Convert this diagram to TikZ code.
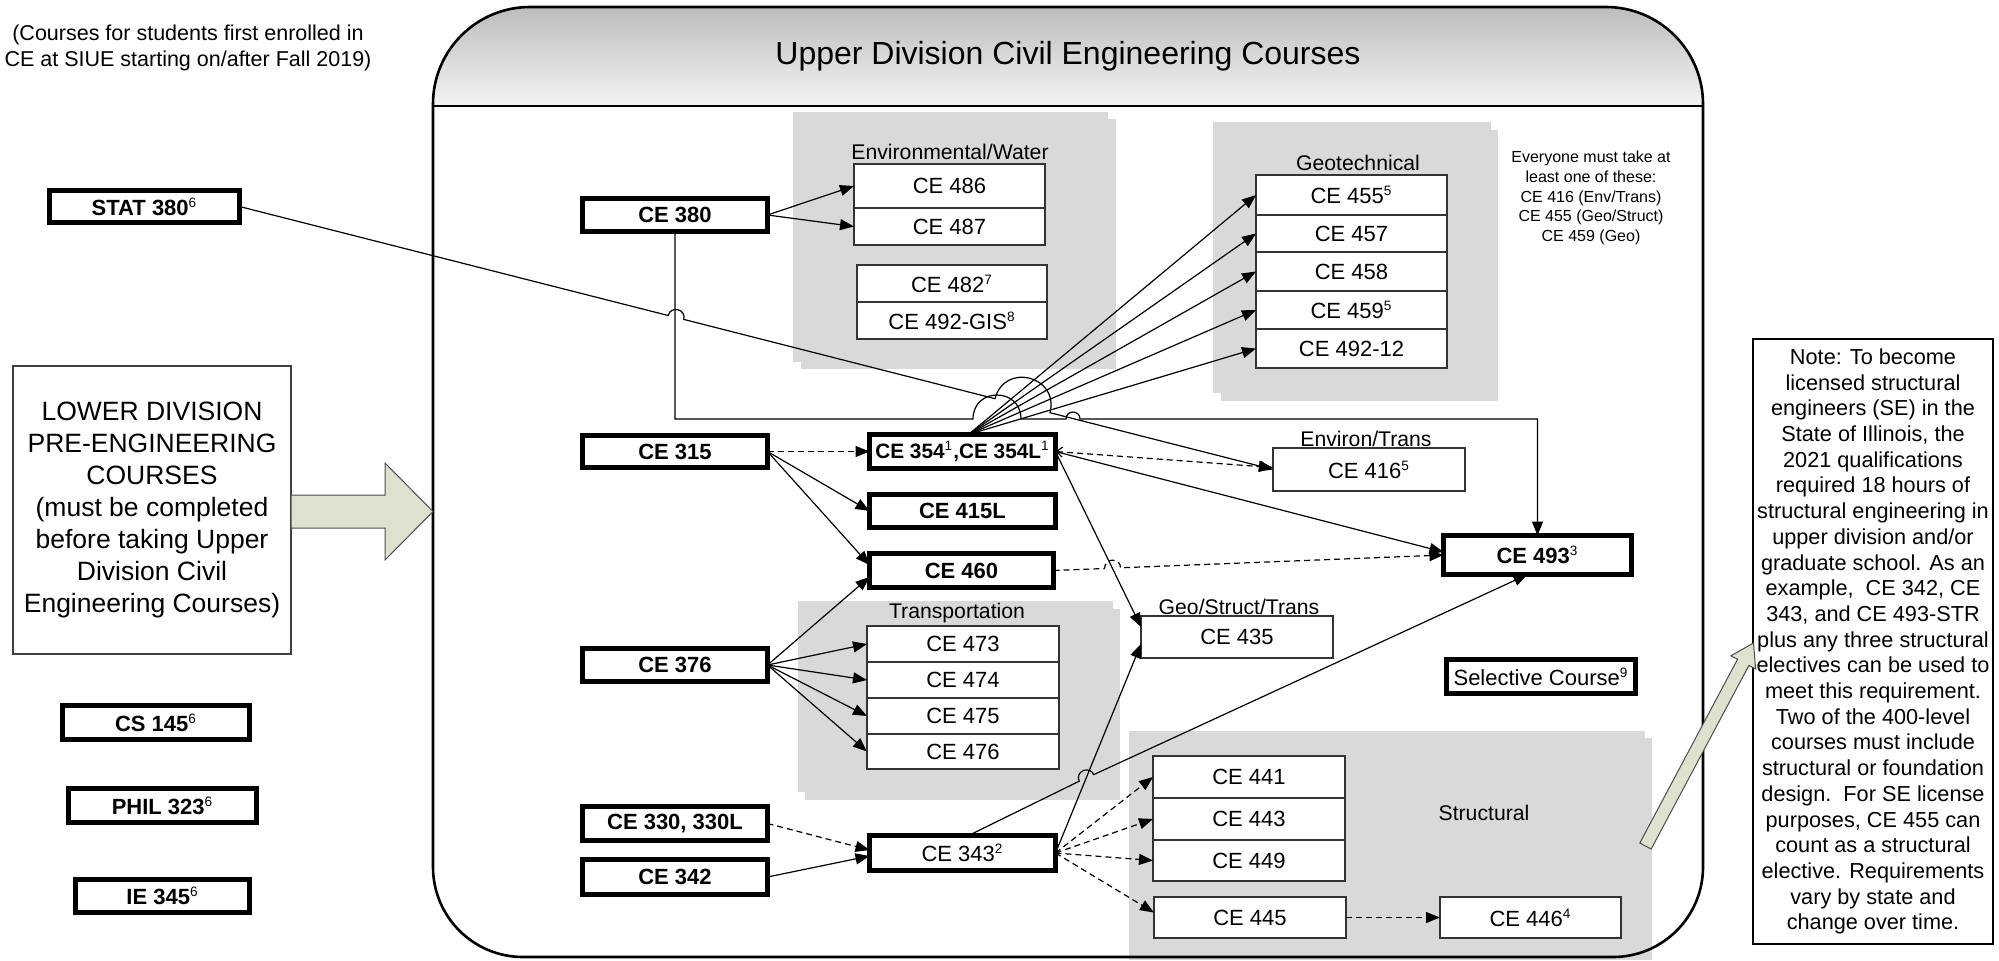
\documentclass[tikz,border=0pt]{standalone}
\usepackage{fontspec}
\setmainfont{Liberation Sans}
\usetikzlibrary{arrows.meta,calc}
\definecolor{sage}{RGB}{221,226,207}
\definecolor{grp}{RGB}{217,217,217}
\definecolor{hdr}{RGB}{188,188,188}
\newcommand{\supx}[1]{\textsuperscript{\normalfont\fontsize{6.8}{7}\selectfont #1}}
\tikzset{
  sz/.style 2 args={minimum width=#1*0.5pt,minimum height=#2*0.5pt},
  bbox/.style={draw=black,line width=2.8pt,fill=white,font=\bfseries\fontsize{11}{13}\selectfont},
  rbox/.style={draw=black,line width=2.8pt,fill=white,font=\fontsize{11}{13}\selectfont},
  box/.style={draw=black!80,line width=0.75pt,fill=white,font=\fontsize{11}{13}\selectfont},
  lbl/.style={font=\fontsize{10.6}{12}\selectfont},
  con/.style={line width=0.6pt,-{Triangle[length=7pt,width=5.5pt]}},
  dsh/.style={con,dash pattern=on 3pt off 2pt},
  grpfill/.style={fill=grp,draw=none}
}
\begin{document}
\begin{tikzpicture}[x=0.5pt,y=-0.5pt,every node/.style={inner sep=0pt,outer sep=0pt}]
\useasboundingbox (0,0) rectangle (1999,960);

% header shading
\shade[top color=hdr,bottom color=white!96!black] (433,106) -- (433,104) .. controls (433,50.4) and (476.4,7) .. (530,7) -- (1606,7) .. controls (1659.4,7) and (1703,50.4) .. (1703,104) -- (1703,106) -- cycle;

% gray groups
\fill[grpfill] (793,112) rectangle (1108,362);
\fill[grpfill] (801,119) rectangle (1116,369);
\fill[grpfill] (1213,122) rectangle (1491,393);
\fill[grpfill] (1221,130) rectangle (1498,401);
\fill[grpfill] (798,601) rectangle (1113,792);
\fill[grpfill] (805,609) rectangle (1120,800);
\fill[grpfill] (1129,731) rectangle (1645,960);
\fill[grpfill] (1136,738) rectangle (1652,960);

% container outline
\draw[line width=1.3pt] (433,106) -- (433,104) .. controls (433,50.4) and (476.4,7) .. (530,7) -- (1606,7) .. controls (1659.4,7) and (1703,50.4) .. (1703,104) -- (1703,867) .. controls (1703,916.7) and (1662.7,957) .. (1613,957) -- (523,957) .. controls (473.3,957) and (433,916.7) .. (433,867) -- cycle;
\draw[line width=1.3pt] (433,106) -- (1703,106);

% texts
\node[align=center,font=\fontsize{10.75}{13}\selectfont] (intro) at (188,48) {(Courses for students first enrolled in\\CE at SIUE starting on/after Fall 2019)};
\node[font=\fontsize{16}{19}\selectfont] (title) at (1068,56) {Upper Division Civil Engineering Courses};
\node[lbl] (lenv) at (950,152) {Environmental/Water};
\node[lbl] (lgeo) at (1358,163) {Geotechnical};
\node[lbl] (lenvt) at (1366,439) {Environ/Trans};
\node[lbl] (lgst) at (1239,607) {Geo/Struct/Trans};
\node[lbl] (ltrans) at (957,613) {Transportation};
\node[lbl] (lstruct) at (1484,813) {Structural};
\node[align=center,font=\fontsize{8}{9.8}\selectfont] (everyone) at (1591,198) {Everyone must take at\\least one of these:\\CE 416 (Env/Trans)\\CE 455 (Geo/Struct)\\CE 459 (Geo)};

% lower division
\node[box,draw=black!75,sz={278}{288},align=center,font=\fontsize{13.25}{16}\selectfont] (lower) at (152,510) {LOWER DIVISION\\PRE-ENGINEERING\\COURSES\\(must be completed\\before taking Upper\\Division Civil\\Engineering Courses)};

% bold boxes
\node[bbox,sz={190}{32}] (stat) at (144.5,206.5) {STAT 380\supx{6}};
\node[bbox,sz={187}{34}] (cs) at (156,722.5) {CS 145\supx{6}};
\node[bbox,sz={188}{34}] (phil) at (162.5,805.5) {PHIL 323\supx{6}};
\node[bbox,sz={174}{33}] (ie) at (162.5,896) {IE 345\supx{6}};
\node[bbox,sz={185}{33}] (ce380) at (675,215) {CE 380};
\node[bbox,sz={185}{32}] (ce315) at (675,451.5) {CE 315};
\node[bbox,sz={185}{33}] (ce376) at (675,665) {CE 376};
\node[bbox,sz={185}{34}] (ce330) at (675,823.5) {CE 330, 330L};
\node[bbox,sz={185}{35}] (ce342) at (675,877) {CE 342};
\node[bbox,sz={186}{34},font=\bfseries\fontsize{10.4}{12}\selectfont] (ce354) at (962.5,451.5) {CE 354\supx{1},CE 354L\supx{1}};
\node[bbox,sz={186}{33}] (ce415) at (962.5,511) {CE 415L};
\node[bbox,sz={184}{34}] (ce460) at (961.5,570.5) {CE 460};
\node[rbox,sz={186}{35}] (ce343) at (962.5,853) {CE 343\supx{2}};
\node[bbox,sz={188}{39}] (ce493) at (1537.5,555) {CE 493\supx{3}};
\node[rbox,sz={189}{34}] (sel) at (1541,676.5) {Selective Course\supx{9}};

% thin boxes
\node[box,sz={191}{44}] (ce486) at (949.5,186) {CE 486};
\node[box,sz={191}{37}] (ce487) at (949.5,226.5) {CE 487};
\node[box,sz={190}{37}] (ce482) at (952,283.5) {CE 482\supx{7}};
\node[box,sz={190}{37}] (ce492gis) at (952,320.5) {CE 492-GIS\supx{8}};
\node[box,sz={191}{40}] (ce455) at (1351.5,195) {CE 455\supx{5}};
\node[box,sz={191}{37}] (ce457) at (1351.5,233.5) {CE 457};
\node[box,sz={191}{39}] (ce458) at (1351.5,271.5) {CE 458};
\node[box,sz={191}{38}] (ce459) at (1351.5,310) {CE 459\supx{5}};
\node[box,sz={191}{39}] (ce49212) at (1351.5,348.5) {CE 492-12};
\node[box,sz={192}{43}] (ce416) at (1369,469.5) {CE 416\supx{5}};
\node[box,sz={192}{42}] (ce435) at (1237,637) {CE 435};
\node[box,sz={192}{36}] (ce473) at (963,644) {CE 473};
\node[box,sz={192}{36}] (ce474) at (963,680) {CE 474};
\node[box,sz={192}{36}] (ce475) at (963,716) {CE 475};
\node[box,sz={192}{35}] (ce476) at (963,751.5) {CE 476};
\node[box,sz={192}{42}] (ce441) at (1249,777) {CE 441};
\node[box,sz={192}{42}] (ce443) at (1249,819) {CE 443};
\node[box,sz={192}{41}] (ce449) at (1249,860.5) {CE 449};
\node[box,sz={192}{41}] (ce445) at (1250,917.5) {CE 445};
\node[box,sz={181}{41}] (ce446) at (1530.5,917.5) {CE 446\supx{4}};

% note box
\node[box,draw=black,sz={240}{605},align=center,font=\fontsize{10.85}{12.85}\selectfont] (note) at (1873,641.5) {Note: To become\\licensed structural\\engineers (SE) in the\\State of Illinois, the\\2021 qualifications\\required 18 hours of\\structural engineering in\\upper division and/or\\graduate school. As an\\example,\ \ CE 342, CE\\343, and CE 493-STR\\plus any three structural\\electives can be used to\\meet this requirement.\\Two of the 400-level\\courses must include\\structural or foundation\\design.\ \ For SE license\\purposes, CE 455 can\\count as a structural\\elective. Requirements\\vary by state and\\change over time.};

% block arrows
\draw[fill=sage,draw=black!70,line width=0.5pt] (lower.east |- 0,495) -- (385,495) -- (385,463) -- (433,511.5) -- (385,560) -- (385,528) -- (lower.east |- 0,528) -- cycle;
\draw[fill=sage,draw=black!70,line width=0.5pt] (1639.8,843) -- (1737.5,659.3) -- (1730.8,655.8) -- (1753.5,643) -- (1755.6,669) -- (1748.9,665.4) -- (1651.2,849) -- cycle;

% connectors
\draw[con] (ce380.east) -- (ce486.west);
\draw[con] (ce380.east) -- (ce487.west);

\coordinate (hA1) at (973,419);
\coordinate (hA2) at (1021,419);
\coordinate (hC1) at (1066,419);
\coordinate (hC2) at (1080,419);
\draw[con] (ce380.south) -- (ce380.south |- hA1) -- (hA1) .. controls ($(hA1)+(0,-32)$) and ($(hA2)+(0,-32)$) .. (hA2) -- (hC1) .. controls ($(hC1)+(0,-9.3)$) and ($(hC2)+(0,-9.3)$) .. (hC2) -- (ce493.north |- hC2) -- (ce493.north);

\coordinate (sA1) at (668.2,315.5);
\coordinate (sA2) at (683.8,319.4);
\coordinate (sB1) at (995,398.7);
\coordinate (sB2) at (1050,412.7);
\draw[con] (stat.east) -- (sA1) .. controls ($(sA1)+(2.6,-10.3)$) and ($(sA2)+(2.6,-10.3)$) .. (sA2) -- (sB1) .. controls ($(sB1)+(9.4,-36.7)$) and ($(sB2)+(9.4,-36.7)$) .. (sB2) -- (ce416.west);

\foreach \t in {ce455,ce457,ce458,ce459,ce49212}
  \draw[con] ([xshift=3pt]ce354.north) -- (\t.west);

\draw[dsh] (ce315.east) -- (ce354.west);
\draw[con] (ce315.east) -- (ce415.west);
\draw[con] (ce315.east) -- ($(ce460.west)+(0,-5.5)$);
\draw[con] (ce376.east) -- ($(ce460.west)+(0,6.5)$);
\foreach \t in {ce473,ce474,ce475,ce476}
  \draw[con] (ce376.east) -- (\t.west);

\draw[dsh,{Straight Barb[length=3pt,width=5pt]}-{Triangle[length=7pt,width=5.5pt]}] (ce354.east) -- ($(ce416.west)+(0,-2)$);
\draw[con] (ce354.east) -- ($(ce493.west)+(0,-3)$);
\draw[con] (ce354.east) -- ($(ce435.west)+(0,-10)$);
\draw[con] (ce343.east) -- ($(ce435.west)+(0,7)$);

\coordinate (hD1) at (1104.5,568.5);
\coordinate (hD2) at (1120.5,567.8);
\draw[dsh] (ce460.east) -- (hD1) .. controls ($(hD1)+(0,-10.7)$) and ($(hD2)+(0,-10.7)$) .. (hD2) -- (ce493.west);

\coordinate (hE1) at (1079.2,781.2);
\coordinate (hE2) at (1093.8,774.6);
\draw[con] ([xshift=3pt]ce343.north) -- (hE1) .. controls ($(hE1)+(-4.5,-9.7)$) and ($(hE2)+(-4.5,-9.7)$) .. (hE2) -- ($(ce493.south)+(-10,0)$);

\draw[dsh] (ce330.east) -- ($(ce343.west)+(0,-3)$);
\draw[con] (ce342.east) -- ($(ce343.west)+(0,3)$);
\foreach \t in {ce441,ce443,ce449}
  \draw[dsh] (ce343.east) -- (\t.west);
\draw[dsh] (ce343.east) -- ($(ce445.west)+(0,-5)$);
\draw[dsh] (ce445.east) -- (ce446.west);
\end{tikzpicture}
\end{document}
